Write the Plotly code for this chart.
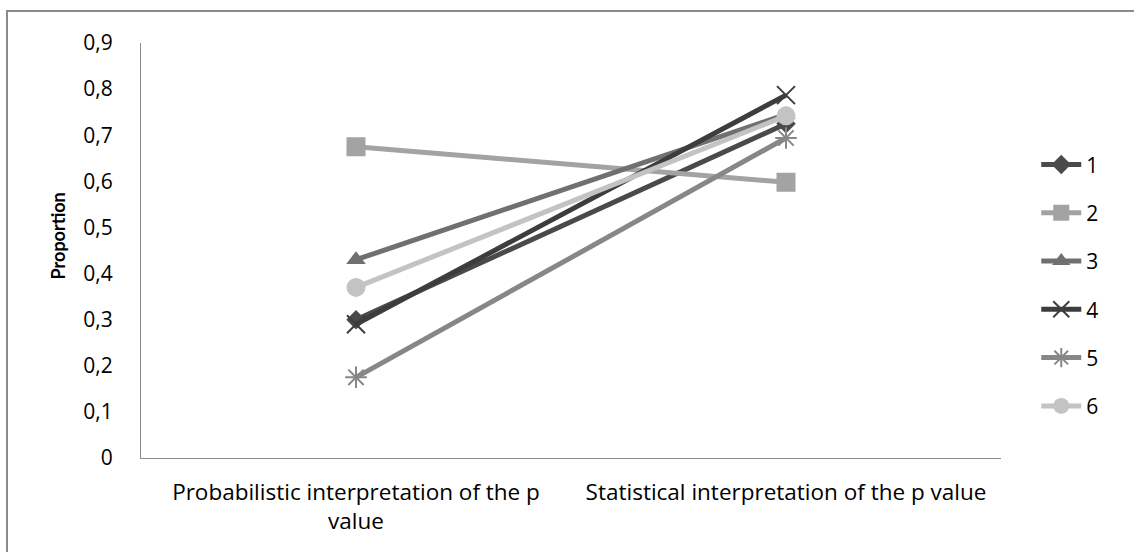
import plotly.graph_objects as go

categories = ["Probabilistic interpretation of the p<br>value",
              "Statistical interpretation of the p value"]
series_names = ["1", "2", "3", "4", "5", "6"]
series_values = [
    [0.30, 0.725],
    [0.675, 0.598],
    [0.43, 0.745],
    [0.29, 0.787],
    [0.175, 0.694],
    [0.37, 0.742],
]
y_ticks = [0, 0.1, 0.2, 0.3, 0.4, 0.5, 0.6, 0.7, 0.8, 0.9]
y_ticktext = ["0", "0,1", "0,2", "0,3", "0,4", "0,5", "0,6", "0,7", "0,8", "0,9"]

colors = ["#4a4a4a", "#a3a3a3", "#707070", "#3d3d3d", "#878787", "#c3c3c3"]
symbols = ["diamond", "square", "triangle-up", "x-thin-open", "asterisk-open", "circle"]
sizes = [15, 19, 17, 18, 18, 19]

FONT = "Open Sans"

fig = go.Figure()
for i, (name, vals) in enumerate(zip(series_names, series_values)):
    thin = symbols[i].endswith("-open")
    fig.add_trace(go.Scatter(
        x=categories, y=vals, name=name, mode="lines+markers",
        legendgroup=name,
        line=dict(color=colors[i], width=5),
        marker=dict(symbol=symbols[i], size=sizes[i], color=colors[i],
                    line=dict(color=colors[i], width=2 if thin else 0)),
    ))

fig.update_layout(
    width=1134, height=552,
    margin=dict(l=141, r=133, t=43, b=94),
    paper_bgcolor="white", plot_bgcolor="white",
    font=dict(family=FONT, size=22, color="black"),
    showlegend=True,
    legend=dict(x=1.041, y=0.756, xanchor="left", yanchor="top",
                traceorder="grouped", tracegroupgap=18,
                font=dict(size=21), itemwidth=40,
                bgcolor="rgba(0,0,0,0)"),
    xaxis=dict(type="category", range=[-0.5, 1.5], showgrid=False,
               showline=True, linecolor="#8c8c8c", linewidth=1,
               ticks="", tickfont=dict(size=22.5), ticklabelstandoff=14,
               zeroline=False),
    yaxis=dict(range=[0, 0.9], tickvals=y_ticks, ticktext=y_ticktext,
               showgrid=False, showline=True, linecolor="#8c8c8c",
               linewidth=1, ticks="", tickfont=dict(size=21),
               ticklabelstandoff=23, zeroline=False),
    annotations=[dict(text="<b>Proportion</b>", xref="paper", yref="paper",
                      x=-0.096, y=0.535, xanchor="center", yanchor="middle",
                      textangle=-90, showarrow=False,
                      font=dict(family="Lato", size=18, color="black"))],
    shapes=[dict(type="rect", xref="paper", yref="paper",
                 x0=-0.1558, x1=1.5, y0=-0.5, y1=1.0771,
                 line=dict(color="#8a8a8a", width=2),
                 fillcolor="rgba(0,0,0,0)", layer="below")],
)

fig.write_html("out.html")
